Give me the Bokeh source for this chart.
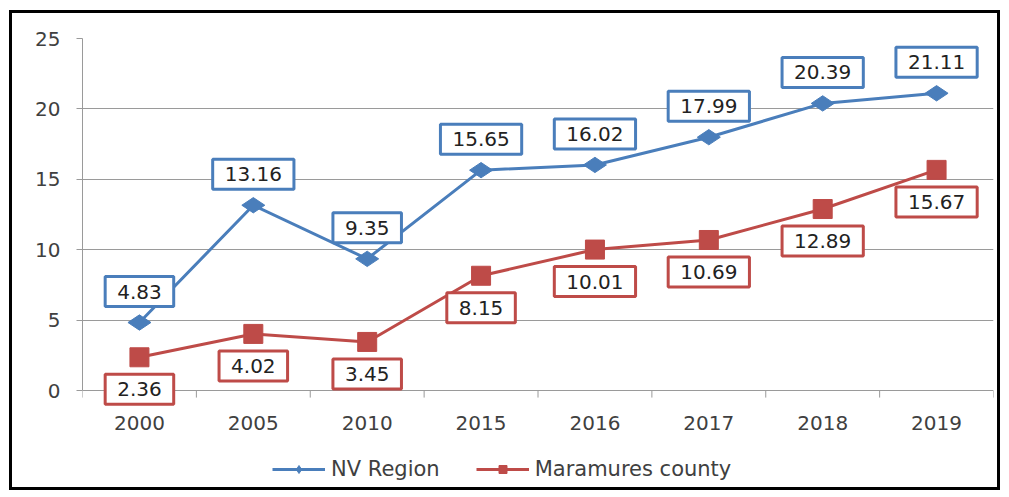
import math
from bokeh.plotting import figure
from bokeh.core.properties import value
from bokeh.models import (Range1d, FixedTicker, Label, LabelSet, Legend, LegendItem,
                          ColumnDataSource, Grid)
from bokeh.embed import file_html
from bokeh.resources import INLINE

years = ["2000", "2005", "2010", "2015", "2016", "2017", "2018", "2019"]
nv_region = [4.83, 13.16, 9.35, 15.65, 16.02, 17.99, 20.39, 21.11]
maramures = [2.36, 4.02, 3.45, 8.15, 10.01, 10.69, 12.89, 15.67]
y_ticks = [0, 5, 10, 15, 20, 25]
series_names = ["NV Region", "Maramures county"]

BLUE = "#4A7EBB"
RED = "#BE4B48"
GREY = "#9A9A9A"
FONT = "DejaVu Sans"
TXT = "#404040"
Y_MIN = -7.10      # frame reaches down to the legend so nothing below zero is clipped
TICK_LEN = 0.5

n = len(years)
xpos = [i + 0.5 for i in range(n)]  # category centres on a linear category scale
bounds = list(range(n + 1))         # category boundaries

p = figure(width=991, height=480,
           x_range=Range1d(0, n), y_range=Range1d(Y_MIN, y_ticks[-1]),
           output_backend="svg", toolbar_location=None,
           x_axis_location=None,
           min_border_left=70, min_border_right=10,
           min_border_top=25, min_border_bottom=3)
p.styles = {"border": "3px solid black", "margin": "10px 0 0 9px"}
p.outline_line_color = None

for g in p.select(type=Grid):
    if g.dimension == 0:
        g.visible = False
p.ygrid.ticker = FixedTicker(ticks=y_ticks)
p.ygrid.grid_line_color = GREY
p.ygrid.grid_line_width = 1

ya = p.yaxis[0]
ya.ticker = FixedTicker(ticks=y_ticks)
ya.bounds = (y_ticks[0], y_ticks[-1])
ya.axis_line_color = GREY
ya.major_tick_line_color = GREY
ya.major_tick_out = 6
ya.major_tick_in = 0
ya.minor_tick_line_color = None
ya.major_label_standoff = 16
ya.major_label_text_font = FONT
ya.major_label_text_font_size = "20px"
ya.major_label_text_color = TXT

# category-boundary tick marks below the zero line
p.segment(x0=bounds, y0=[0] * len(bounds), x1=bounds, y1=[-TICK_LEN] * len(bounds),
          line_color=GREY, line_width=1)

# category labels under the zero line
cat_src = ColumnDataSource(dict(x=xpos, y=[0] * n, year=years))
p.add_layout(LabelSet(x="x", y="y", text="year", source=cat_src, y_offset=-32,
                      text_align="center", text_baseline="middle",
                      text_font=value(FONT), text_font_size=value("20px"),
                      text_color=TXT))

l1 = p.line(xpos, nv_region, line_color=BLUE, line_width=3)
s1 = p.scatter(xpos, nv_region, marker="diamond", size=23, angle=math.pi / 2,
               fill_color=BLUE, line_color=BLUE)
l2 = p.line(xpos, maramures, line_color=RED, line_width=3)
s2 = p.scatter(xpos, maramures, marker="square", size=19,
               fill_color=RED, line_color=RED)

pad = {"left": 12, "right": 12, "top": 8, "bottom": 8}
for x, v in zip(xpos, nv_region):
    p.add_layout(Label(x=x, y=v, text=f"{v:.2f}", y_offset=31,
                       text_align="center", text_baseline="middle",
                       text_font=FONT, text_font_size="20px", text_color="#222222",
                       background_fill_color="white", border_line_color=BLUE,
                       border_line_width=3, padding=pad))
for x, v in zip(xpos, maramures):
    p.add_layout(Label(x=x, y=v, text=f"{v:.2f}", y_offset=-32,
                       text_align="center", text_baseline="middle",
                       text_font=FONT, text_font_size="20px", text_color="#222222",
                       background_fill_color="white", border_line_color=RED,
                       border_line_width=3, padding=pad))

legend = Legend(items=[LegendItem(label=series_names[0], renderers=[l1, s1]),
                       LegendItem(label=series_names[1], renderers=[l2, s2])],
                orientation="horizontal", location=(190, 9),
                glyph_width=53, glyph_height=20, label_standoff=6, spacing=36,
                padding=0, margin=0, border_line_color=None,
                background_fill_alpha=0,
                label_text_font=FONT, label_text_font_size="21px",
                label_text_color=TXT)
p.add_layout(legend)

open("out.html", "w").write(file_html(p, INLINE))
